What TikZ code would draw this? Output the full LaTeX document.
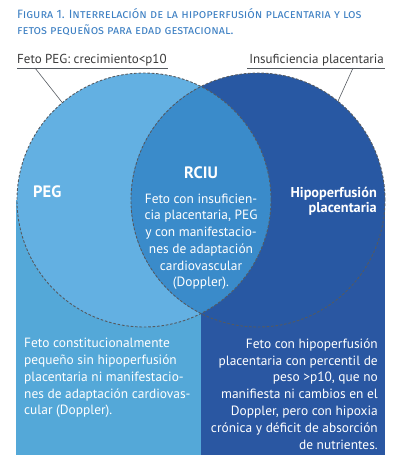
\documentclass[tikz,border=0pt]{standalone}
\usepackage{fontspec}
\setmainfont{PT Sans}
\newfontfamily\titlefont{Fira Sans}
\usetikzlibrary{positioning}
\definecolor{pegblue}{HTML}{63B0E2}
\definecolor{pegrect}{HTML}{54A8D8}
\definecolor{ipblue}{HTML}{2858A3}
\definecolor{iprect}{HTML}{2A57A2}
\definecolor{rciublue}{HTML}{3A8BCA}
\definecolor{dashgray}{HTML}{555A60}
\definecolor{titleblue}{HTML}{3B7EC2}
\definecolor{taggray}{HTML}{3A3A3A}

\begin{document}
\begin{tikzpicture}[x=1pt, y=1pt,
    venn/.style={draw=dashgray, dash pattern=on 2.6pt off 1.8pt, line width=0.9pt},
    leader/.style={draw=dashgray, line width=0.6pt},
    tag/.style={font=\fontsize{13}{14}\selectfont, text=taggray, inner sep=0pt},
    head/.style={font=\fontsize{16.5}{17}\selectfont\bfseries, text=white, inner sep=0pt},
    subhead/.style={font=\fontsize{14.3}{15}\selectfont\bfseries, text=white, inner sep=0pt},
    body/.style={font=\fontsize{13.4}{16.8}\selectfont, text=white, inner sep=0pt}
]
    \useasboundingbox (0,0) rectangle (400,475);

    % title (base = last line)
    \node[anchor=base west, align=left, inner sep=0pt, text=titleblue,
          font=\titlefont\fontsize{12.1}{16}\selectfont] (title) at (17,440)
        {\textsc{Figura 1. Interrelación de la hipoperfusión placentaria y los}\\
         \textsc{fetos pequeños para edad gestacional.}};

    % lower panels
    \fill[pegrect] (16,20) rectangle (201,275);
    \fill[iprect] (201,20) rectangle (385,275);

    % circles
    \node[circle, minimum size=254pt, inner sep=0pt, fill=pegblue] (pegc) at (144,275) {};
    \node[circle, minimum size=254pt, inner sep=0pt, fill=ipblue] (ipc) at (258,275) {};
    \begin{scope}
        \clip (pegc.center) circle (127pt);
        \fill[rciublue] (ipc.center) circle (127pt);
    \end{scope}
    \draw[venn] (pegc.center) circle (127pt);
    \draw[venn] (ipc.center) circle (127pt);

    % labels with leaders
    \node[tag, anchor=base west] (pegtag) at (17,411) {Feto PEG: crecimiento<p10};
    \node[tag, anchor=base east] (iptag) at (384,411) {Insuficiencia placentaria};
    \coordinate (pegfoot) at (35,407);
    \coordinate (ipfoot) at (353,407);
    \draw[leader] (17,407) -- (168,407);
    \draw[leader] (247,407) -- (385,407);
    \draw[leader] (pegfoot) -- (pegc.130);
    \draw[leader] (ipfoot) -- (ipc.51);

    % headings
    \node[head, anchor=base west] (peg) at (33,277) {PEG};
    \node[head, anchor=base] (rciu) at (201,296) {RCIU};
    \node[subhead, anchor=base east, align=right] (hipo) at (377,262)
        {Hipoperfusión\\placentaria};

    % texts
    \node[body, anchor=base, align=center] (rciutxt) at (201,188)
        {Feto con insuficien-\\cia placentaria, PEG\\y con manifestacio-\\nes de adaptación\\cardiovascular\\(Doppler).};
    \node[body, anchor=base west, align=left] (pegtxt) at (24,60)
        {Feto constitucionalmente\\pequeño sin hipoperfusión\\placentaria ni manifestacio-\\nes de adaptación cardiovas-\\cular (Doppler).};
    \node[body, anchor=base east, align=right] (hipotxt) at (378,26)
        {Feto con hipoperfusión\\placentaria con percentil de\\peso >p10, que no\\manifiesta ni cambios en el\\Doppler, pero con hipoxia\\crónica y déficit de absorción\\de nutrientes.};
\end{tikzpicture}
\end{document}
